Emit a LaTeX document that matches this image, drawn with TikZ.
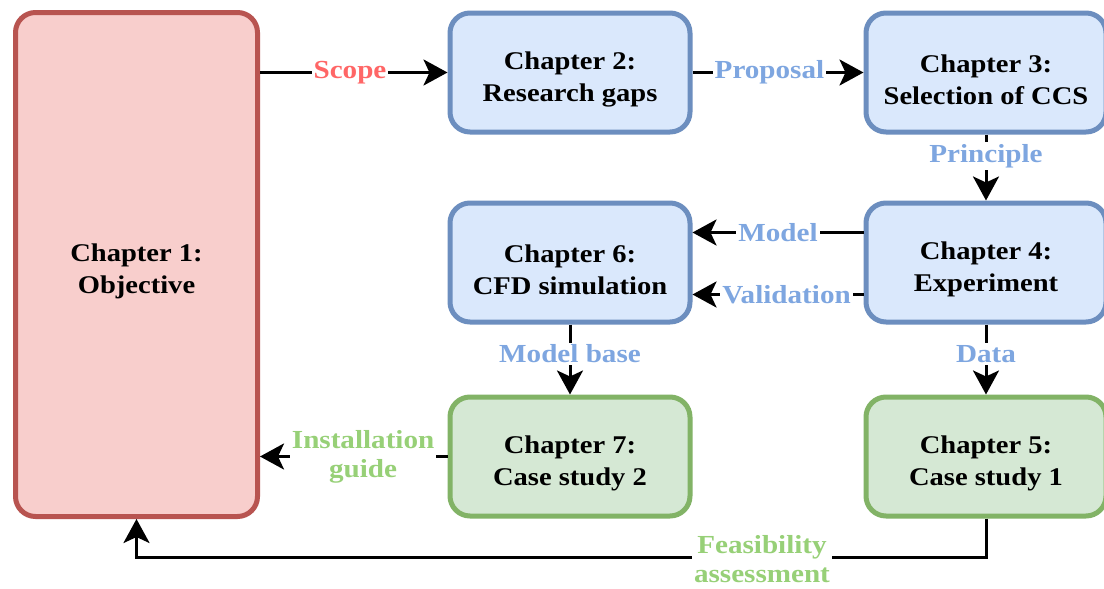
\documentclass[tikz,border=0pt]{standalone}
\usepackage{fontspec}
\setmainfont{Liberation Serif}[FakeStretch=1.12]
\usetikzlibrary{arrows.meta}
\definecolor{redfill}{HTML}{F8CECC}
\definecolor{redline}{HTML}{B85450}
\definecolor{bluefill}{HTML}{DAE8FC}
\definecolor{blueline}{HTML}{6C8EBF}
\definecolor{greenfill}{HTML}{D5E8D4}
\definecolor{greenline}{HTML}{82B366}
\definecolor{redtxt}{HTML}{FF6666}
\definecolor{bluetxt}{HTML}{7EA6E0}
\definecolor{greentxt}{HTML}{97D077}
\newcommand{\topstrut}{\rule{0pt}{32pt}}
\tikzset{
  chbox/.style={rectangle, rounded corners=20pt, line width=5pt, minimum width=240pt, minimum height=119pt,
    align=center, inner sep=0pt, font=\bfseries\fontsize{25.5}{32}\selectfont},
  redbox/.style={chbox, draw=redline, fill=redfill},
  bluebox/.style={chbox, draw=blueline, fill=bluefill},
  greenbox/.style={chbox, draw=greenline, fill=greenfill},
  arr/.style={line width=3pt, draw=black, -{Stealth[length=24pt, width=26pt, inset=6pt]}},
  lab/.style={fill=white, inner sep=2pt, align=center, font=\bfseries\fontsize{26}{29}\selectfont},
}
\begin{document}
\begin{tikzpicture}[x=1pt,y=-1pt]
\useasboundingbox[fill=white] (0,0) rectangle (1104,589);
\node[redbox, minimum width=242pt, minimum height=504pt] (c1) at (136.5,264.5) {\topstrut Chapter 1:\\Objective};
\node[bluebox] (c2) at (570,72.5) {\topstrut Chapter 2:\\Research gaps};
\node[bluebox] (c3) at (986,72.5) {\topstrut Chapter 3:\\Selection of CCS};
\node[bluebox] (c6) at (570,262.5) {\topstrut Chapter 6:\\CFD simulation};
\node[bluebox] (c4) at (986,262.5) {\topstrut Chapter 4:\\Experiment};
\node[greenbox] (c7) at (570,456.5) {\topstrut Chapter 7:\\Case study 2};
\node[greenbox] (c5) at (986,456.5) {\topstrut Chapter 5:\\Case study 1};
\coordinate (fb) at (986,557);

\draw[arr] (c1.east |- c2.west) -- node[lab, text=redtxt, pos=0.48] {Scope} (c2.west);
\draw[arr] (c2.east) -- node[lab, text=bluetxt, pos=0.45] {Proposal} (c3.west);
\draw[arr] (c3.south) -- node[lab, text=bluetxt, pos=0.33] {Principle} (c4.north);
\draw[arr] ([yshift=30pt]c4.west) -- node[lab, text=bluetxt, pos=0.5] {Model} ([yshift=30pt]c6.east);
\draw[arr] ([yshift=-32pt]c4.west) -- node[lab, text=bluetxt, pos=0.45] {Validation} ([yshift=-32pt]c6.east);
\draw[arr] (c6.south) -- node[lab, text=bluetxt, pos=0.42] {Model base} (c7.north);
\draw[arr] (c4.south) -- node[lab, text=bluetxt, pos=0.42] {Data} (c5.north);
\draw[arr] (c7.west) -- node[lab, text=greentxt, pos=0.45] {Installation\\guide} (c1.east |- c7.west);
\draw[arr] (c5.south) |- (c1.south |- fb) -- (c1.south);
\node[lab, text=greentxt] (lf) at (762,559) {Feasibility\\assessment};
\end{tikzpicture}
\end{document}
